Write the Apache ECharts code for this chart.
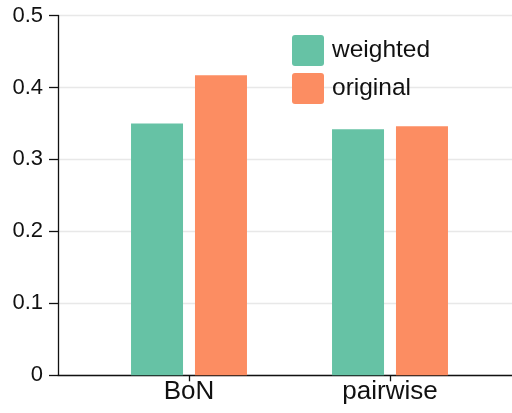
<!DOCTYPE html>
<html>
<head>
<meta charset="utf-8">
<script src="https://cdn.jsdelivr.net/npm/echarts@6/dist/echarts.min.js"></script>
<style>
  html, body { margin: 0; padding: 0; background: #fff; }
  #main { width: 512px; height: 413px; }
</style>
</head>
<body>
<div id="main"></div>
<script>
var categories = ["BoN", "pairwise"];
var weighted = [0.350, 0.342];
var original = [0.417, 0.346];
var yTicks = { min: 0, max: 0.5, step: 0.1 };

var chart = echarts.init(document.getElementById("main"));
var font = "Liberation Sans, Arial, sans-serif";
// square with small rounded corners for the legend
var legendIcon = "path://M3,0H29Q32,0,32,3V28Q32,31,29,31H3Q0,31,0,28V3Q0,0,3,0Z";

// grid 0 only carries the frame (y axis + full-width bottom line),
// grid 1 holds the bars so the categories sit where the reference puts them
chart.setOption({
  animation: false,
  color: ["#66c2a5", "#fc8d62"],
  legend: {
    orient: "vertical",
    left: 292,
    top: 35,
    padding: 0,
    itemWidth: 32,
    itemHeight: 31,
    itemGap: 7,
    icon: legendIcon,
    textStyle: { fontSize: 24.5, color: "#111", fontFamily: font, padding: [0, 0, 0, 3] },
    data: ["weighted", "original"]
  },
  grid: [
    { left: 58, right: 0, top: 15.5, bottom: 37.7 },
    { left: 88.5, width: 402, top: 15.5, bottom: 37.7 }
  ],
  xAxis: [
    {
      gridIndex: 0, type: "value", min: 0, max: 1,
      axisLine: { show: true, lineStyle: { color: "#111", width: 1.3 } },
      axisTick: { show: false }, axisLabel: { show: false }, splitLine: { show: false }
    },
    {
      gridIndex: 1, type: "category", data: categories,
      axisLine: { show: false },
      axisTick: { show: true, alignWithLabel: true, length: 6, lineStyle: { color: "#111", width: 1.3 } },
      axisLabel: { fontSize: 26, color: "#111", fontFamily: font, margin: 4 }
    }
  ],
  yAxis: [
    {
      gridIndex: 0, type: "value", min: yTicks.min, max: yTicks.max, interval: yTicks.step,
      axisLine: { show: true, lineStyle: { color: "#111", width: 1.3 } },
      axisTick: { show: true, length: 9, lineStyle: { color: "#111", width: 1.3 } },
      axisLabel: { fontSize: 22, color: "#111", fontFamily: font, margin: 15 },
      splitLine: { show: true, lineStyle: { color: "#e8e8e8", width: 1.3 } }
    },
    {
      gridIndex: 1, type: "value", min: yTicks.min, max: yTicks.max, interval: yTicks.step,
      show: false, splitLine: { show: false }
    }
  ],
  series: [
    {
      name: "weighted", type: "bar", xAxisIndex: 1, yAxisIndex: 1,
      barWidth: 52, barGap: "23%", data: weighted
    },
    {
      name: "original", type: "bar", xAxisIndex: 1, yAxisIndex: 1,
      barWidth: 52, barGap: "23%", data: original
    }
  ]
});
</script>
</body>
</html>
